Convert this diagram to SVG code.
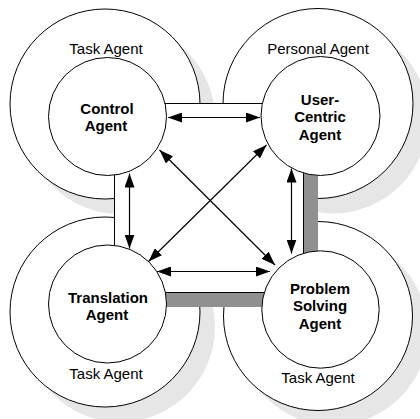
<svg xmlns="http://www.w3.org/2000/svg" width="420" height="419" viewBox="0 0 420 419">
<style>
.sh{fill:#e6e6e6}
.ring{fill:#fff;stroke:#000;stroke-width:1}
.core{fill:#fff;stroke:#000;stroke-width:1}
.lbl{font-family:"Liberation Sans",Arial,sans-serif;font-size:15px;fill:#000;text-anchor:middle}
.bold{font-weight:bold}
.conn{stroke:#000;stroke-width:1.2;fill:none;marker-start:url(#ah);marker-end:url(#ah)}
</style>
<defs>
<marker id="ah" viewBox="0 0 14 10" refX="14" refY="5" markerWidth="14" markerHeight="10" markerUnits="userSpaceOnUse" orient="auto-start-reverse">
<path d="M0,0 L14,5 L0,10 z" fill="#000"/>
</marker>
</defs>
<rect width="420" height="419" fill="#fff"/>
<g id="shadows">
<circle class="sh" cx="120" cy="119" r="95"/>
<circle class="sh" cx="333" cy="118.5" r="95"/>
<circle class="sh" cx="120" cy="327" r="95"/>
<circle class="sh" cx="333" cy="331" r="94.5"/>
</g>
<g id="ring-control">
<circle class="ring" cx="105" cy="104" r="95"/>
<text class="lbl" x="106" y="53.5">Task Agent</text>
</g>
<g id="ring-user">
<circle class="ring" cx="318" cy="103.5" r="95"/>
<text class="lbl" x="318" y="54">Personal Agent</text>
</g>
<g id="ring-translation">
<circle class="ring" cx="105" cy="312" r="95"/>
<text class="lbl" x="106" y="379">Task Agent</text>
</g>
<g id="ring-problem">
<circle class="ring" cx="318" cy="316" r="94.5"/>
<text class="lbl" x="318" y="383">Task Agent</text>
</g>
<g id="frame">
<rect x="129" y="118" width="189" height="189" fill="#909090"/>
<rect x="114.5" y="103.5" width="189" height="189" fill="#fff" stroke="#000" stroke-width="1"/>
</g>
<g id="control-agent">
<circle class="core" cx="107.5" cy="116.5" r="59"/>
<text class="lbl bold" x="107" y="113.5">Control</text>
<text class="lbl bold" x="106" y="130.5">Agent</text>
</g>
<g id="user-centric-agent">
<circle class="core" cx="320.5" cy="116" r="59.5"/>
<text class="lbl bold" x="320" y="104.5">User-</text>
<text class="lbl bold" x="320" y="122">Centric</text>
<text class="lbl bold" x="320" y="139.5">Agent</text>
</g>
<g id="translation-agent">
<circle class="core" cx="107.5" cy="304" r="59"/>
<text class="lbl bold" x="108" y="302.5">Translation</text>
<text class="lbl bold" x="107" y="320">Agent</text>
</g>
<g id="problem-solving-agent">
<circle class="core" cx="320.5" cy="309.5" r="58.7"/>
<text class="lbl bold" x="320" y="293.5">Problem</text>
<text class="lbl bold" x="320" y="311">Solving</text>
<text class="lbl bold" x="320" y="328.5">Agent</text>
</g>
<g id="connectors">
<line class="conn" x1="168" y1="117.5" x2="260" y2="117.5"/>
<line class="conn" x1="157" y1="271.5" x2="270" y2="271.5"/>
<line class="conn" x1="129.5" y1="173.5" x2="129.5" y2="248.5"/>
<line class="conn" x1="291.5" y1="168.5" x2="291.5" y2="253.5"/>
<line class="conn" x1="159.5" y1="150" x2="275" y2="265"/>
<line class="conn" x1="266.5" y1="145" x2="148.5" y2="261.5"/>
</g>
</svg>
